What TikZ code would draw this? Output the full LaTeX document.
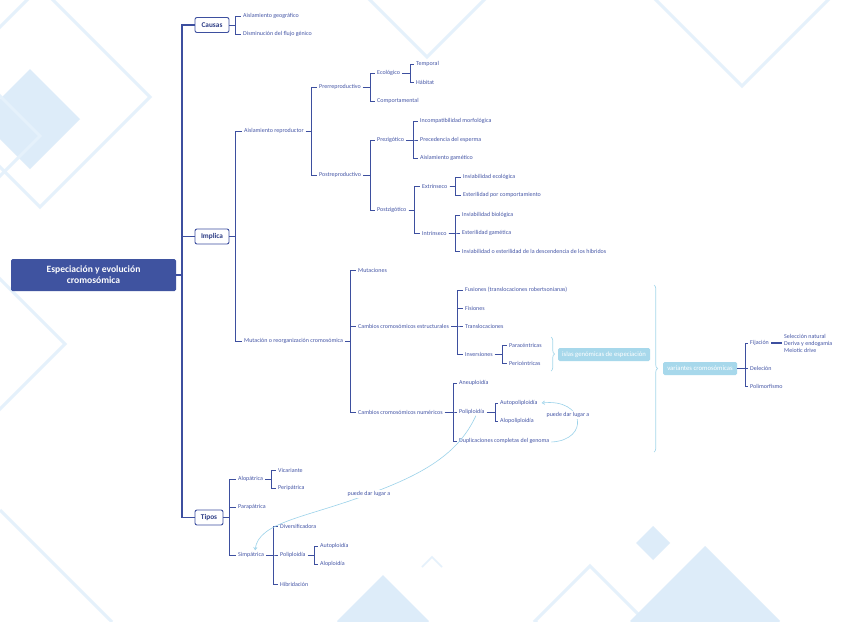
\documentclass[tikz,border=0pt]{standalone}
\usepackage{fontspec}
\setmainfont{Carlito}
\usetikzlibrary{arrows.meta,decorations.pathreplacing,calc}
\definecolor{lineblue}{HTML}{3D4F9F}
\definecolor{textblue}{HTML}{4556A6}
\definecolor{boxtext}{HTML}{2C3C85}
\definecolor{rootfill}{HTML}{3F53A0}
\definecolor{lightblue}{HTML}{A7D8EB}
\definecolor{curvecol}{HTML}{9BD2EA}
\definecolor{bgfill}{HTML}{DDECF9}
\definecolor{bgline}{HTML}{E5F1FB}
\tikzset{
 conn/.style={draw=lineblue, line width=0.8pt},
 trunk/.style={draw=lineblue, line width=1.1pt},
 lbl/.style={anchor=west, inner xsep=2pt, inner ysep=1pt, text=textblue, font=\fontsize{6}{7}\selectfont},
 hbox/.style={draw=lineblue, line width=0.9pt, rounded corners=2pt, fill=white, text=boxtext, font=\bfseries\fontsize{7.3}{8}\selectfont, inner sep=0pt, minimum height=15pt},
 rootbox/.style={fill=rootfill, rounded corners=1.5pt, text=white, font=\bfseries\fontsize{9.6}{11}\selectfont, align=center, minimum width=165pt, minimum height=32pt, inner sep=0pt},
 lbox/.style={fill=lightblue, rounded corners=1.5pt, text=white, inner sep=0pt, minimum height=13pt, font=\fontsize{6.7}{7.5}\selectfont},
 curv/.style={draw=curvecol, line width=0.6pt},
 curvlbl/.style={fill=white, inner sep=1pt, text=textblue, font=\fontsize{6}{7}\selectfont},
 brc/.style={draw=lightblue, line width=0.7pt, decorate, decoration={brace, amplitude=3.5pt}},
 bgl/.style={draw=bgline, line width=3pt},
}
\newcommand\kids[3]{\coordinate (bx) at (#2,0);\foreach \ch in {#3}{\draw[conn] (#1.east) -- (#1.east -| bx) |- (\ch.west);}}
\newcommand\odia[3]{\draw[bgl] (#1,#2) ++(-#3,0) -- ++(#3,#3) -- ++(#3,-#3) -- ++(-#3,-#3) -- cycle;}
\newcommand\fdia[3]{\fill[bgfill] (#1,#2) ++(-#3,0) -- ++(#3,#3) -- ++(#3,-#3) -- ++(-#3,-#3) -- cycle;}
\begin{document}
\begin{tikzpicture}[x=1pt,y=-1pt]
\fill[white] (0,0) rectangle (848,621);
\useasboundingbox (0,0) rectangle (848,621);
% background
\begin{scope}
\clip (0,0) rectangle (848,621);
\fdia{30}{119}{50}
\odia{40}{97}{110}
\odia{-20}{136}{60}
\odia{-5}{344}{70}
\draw[bgl] (0,510) -- (112,622);
\odia{427}{0}{57}
\odia{742}{0}{86}
\draw[bgl,line width=1.5pt] (422,567) -- (432,557) -- (442,567);
\fdia{383}{621}{46}
\odia{590}{621}{55}
\fdia{705}{621}{75}
\fdia{653}{543}{17}
\end{scope}

% root and level 1
\node[rootbox] (root) at (93.5,275) {Especiación y evolución\\cromosómica};
\node[hbox, minimum width=34pt] (causas) at (212,25) {Causas};
\node[hbox, minimum width=34pt] (implica) at (212,236.5) {Implica};
\node[hbox, minimum width=28pt] (tipos) at (209,517.5) {Tipos};
\coordinate (bx) at (182,0);
\foreach \ch in {causas,implica,tipos}{\draw[trunk] (root.east) -- (root.east -| bx) |- (\ch.west);}

% Causas
\node[lbl] (c1) at (241,16) {Aislamiento geográfico};
\node[lbl] (c2) at (241,34) {Disminución del flujo génico};
\kids{causas}{235}{c1,c2}

% Implica
\node[lbl] (ar) at (242,131) {Aislamiento reproductor};
\node[lbl] (mr) at (242,341) {Mutación o reorganización cromosómica};
\kids{implica}{235}{ar,mr}

\node[lbl] (pre) at (317,87) {Prerreproductivo};
\node[lbl] (post) at (317,175) {Postreproductivo};
\kids{ar}{311}{pre,post}

\node[lbl] (eco) at (375,73) {Ecológico};
\node[lbl] (comp) at (375,101) {Comportamental};
\kids{pre}{370}{eco,comp}

\node[lbl] (temp) at (414,64) {Temporal};
\node[lbl] (hab) at (414,82) {Hábitat};
\kids{eco}{410}{temp,hab}

\node[lbl] (prez) at (375,140) {Prezigótico};
\node[lbl] (postz) at (375,210) {Postzigótico};
\kids{post}{370}{prez,postz}

\node[lbl] (incomp) at (418,121) {Incompatibilidad morfológica};
\node[lbl] (prec) at (418,140) {Precedencia del esperma};
\node[lbl] (aisg) at (418,158) {Aislamiento gamético};
\kids{prez}{413}{incomp,prec,aisg}

\node[lbl] (ext) at (420,186) {Extrínseco};
\node[lbl] (intr) at (420,233) {Intrínseco};
\kids{postz}{414}{ext,intr}

\node[lbl] (ie) at (461,177) {Inviabilidad ecológica};
\node[lbl] (ec) at (461,195) {Esterilidad por comportamiento};
\kids{ext}{455}{ie,ec}

\node[lbl] (ib) at (460,215) {Inviabilidad biológica};
\node[lbl] (eg) at (460,233) {Esterilidad gamética};
\node[lbl] (ied) at (460,251) {Inviabilidad o esterilidad de la descendencia de los híbridos};
\kids{intr}{455}{ib,eg,ied}

% Mutación
\node[lbl] (mut) at (356,270) {Mutaciones};
\node[lbl] (cest) at (356,326) {Cambios cromosómicos estructurales};
\node[lbl] (cnum) at (356,412) {Cambios cromosómicos numéricos};
\kids{mr}{350}{mut,cest,cnum}

\node[lbl] (fus) at (463,290) {Fusiones (translocaciones robertsonianas)};
\node[lbl] (fis) at (463,308) {Fisiones};
\node[lbl] (tra) at (463,326) {Translocaciones};
\node[lbl] (inv) at (463,354) {Inversiones};
\kids{cest}{457}{fus,fis,tra,inv}

\node[lbl] (para) at (507,345) {Paracéntricas};
\node[lbl] (peri) at (507,363) {Pericéntricas};
\kids{inv}{502}{para,peri}

\node[lbl] (aneu) at (457,383) {Aneuploidía};
\node[lbl] (poli) at (457,412) {Poliploidía};
\node[lbl] (dup) at (457,441) {Duplicaciones completas del genoma};
\kids{cnum}{453}{aneu,poli,dup}

\node[lbl] (auto) at (498,403) {Autopoliploidía};
\node[lbl] (alo) at (498,421) {Alopoliploidía};
\kids{poli}{495}{auto,alo}

% braces and light boxes
\coordinate (b1t) at (551,337);
\coordinate (b1b) at (551,371);
\draw[brc] (b1t) -- (b1b);
\node[lbox, minimum width=92pt] (islas) at (604,354.5) {islas genómicas de especiación};
\coordinate (b2t) at (654,285);
\coordinate (b2b) at (654,452);
\draw[brc] (b2t) -- (b2b);
\node[lbox, minimum width=74pt] (var) at (700,368.5) {variantes cromosómicas};

\node[lbl] (fij) at (748,343) {Fijación};
\node[lbl] (del) at (748,368) {Deleción};
\node[lbl] (pol) at (748,386) {Polimorfismo};
\kids{var}{745}{fij,del,pol}
\node[lbl, align=left, font=\fontsize{6}{6.6}\selectfont] (sel) at (782,343.5) {Selección natural\\Deriva y endogamia\\Meiotic drive};
\draw[conn, line width=1.1pt] (fij.east) -- (sel.west |- fij.east);

% Tipos
\node[lbl] (alop) at (236,479) {Alopátrica};
\node[lbl] (parap) at (236,507) {Parapátrica};
\node[lbl] (simp) at (236,555) {Simpátrica};
\kids{tipos}{229}{alop,parap,simp}

\node[lbl] (vic) at (276,470) {Vicariante};
\node[lbl] (perip) at (276,488) {Peripátrica};
\kids{alop}{271}{vic,perip}

\node[lbl] (div) at (278,526) {Diversificadora};
\node[lbl] (poli2) at (278,555) {Poliploidía};
\node[lbl] (hib) at (278,584) {Hibridación};
\kids{simp}{273}{div,poli2,hib}

\node[lbl] (autop) at (318,546) {Autoploidía};
\node[lbl] (alopl) at (318,564) {Aloploidía};
\kids{poli2}{314}{autop,alopl}

% curved relations
\draw[curv, -{Straight Barb[length=2.5pt,width=3.5pt]}] ([yshift=-1pt]dup.east) .. controls (590,440) and (585,398) .. ([xshift=2pt]auto.east);
\node[curvlbl] (l1) at (568,415) {puede dar lugar a};
\draw[curv, -{Straight Barb[length=2.5pt,width=3.5pt]}] ([xshift=4pt]poli.south) .. controls (460,450) and (430,472) .. (369,494) .. controls (305,518) and (258,522) .. ([xshift=4pt,yshift=1pt]simp.north);
\node[curvlbl] (l2) at (369,494) {puede dar lugar a};
\end{tikzpicture}
\end{document}
